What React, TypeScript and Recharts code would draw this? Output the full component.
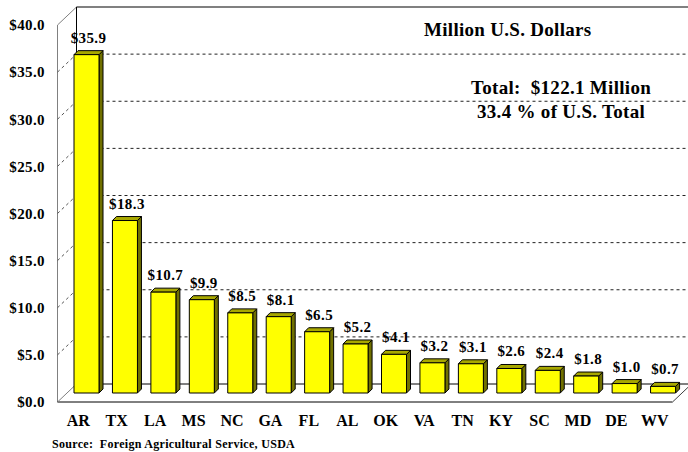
import { BarChart, Bar, XAxis, YAxis, LabelList, ReferenceArea, ReferenceLine } from "recharts";

const states = ["AR", "TX", "LA", "MS", "NC", "GA", "FL", "AL", "OK", "VA", "TN", "KY", "SC", "MD", "DE", "WV"];
const values = [35.9, 18.3, 10.7, 9.9, 8.5, 8.1, 6.5, 5.2, 4.1, 3.2, 3.1, 2.6, 2.4, 1.8, 1.0, 0.7];
const yTicks = [0, 5, 10, 15, 20, 25, 30, 35, 40];
const gridValues = [5, 10, 15, 20, 25, 30, 35];

const data = states.map((s, i) => ({ name: s, value: values[i] }));

// half depth of the 3D floor (bar plane sits midway between front and back)
const DX = 9.5;
const DY = 9;
const FONT = "'Liberation Serif', 'Times New Roman', serif";

const Bar3D = (props: any) => {
  const { x, y, width, height } = props;
  const d = 4;
  const r = x + width;
  const b = y + height;
  return (
    <g stroke="#000" strokeWidth={1} strokeLinejoin="round">
      <polygon points={`${r},${y} ${r + d},${y - d} ${r + d},${b - d} ${r},${b}`} fill="#707000" />
      <polygon points={`${x},${y} ${x + d},${y - d} ${r + d},${y - d} ${r},${y}`} fill="#a8a800" />
      <rect x={x} y={y} width={width} height={height} fill="#ffff00" />
    </g>
  );
};

const Frame = (props: any) => {
  const { x, y, width, height } = props;
  const L = x;
  const R = x + width;
  const T = y;
  const B = y + height;
  return (
    <g fill="none">
      <line x1={L + DX} y1={T - DY} x2={700} y2={T - DY} stroke="#808080" strokeWidth={2} />
      <line x1={L - DX} y1={T + DY} x2={L + DX} y2={T - DY} stroke="#808080" />
      <line x1={L - DX} y1={T + DY} x2={L - DX} y2={B + DY} stroke="#808080" />
      <line x1={L + DX} y1={T - DY} x2={L + DX} y2={B - DY} stroke="#000" />
      <line x1={L + DX} y1={B - DY} x2={R + DX} y2={B - DY} stroke="#000" />
      <line x1={L - DX} y1={B + DY} x2={R - DX} y2={B + DY} stroke="#000" />
      <line x1={L - DX} y1={B + DY} x2={L + DX} y2={B - DY} stroke="#808080" />
      <line x1={R - DX} y1={B + DY} x2={R + DX} y2={B - DY} stroke="#404040" />
    </g>
  );
};

const GridLine = (props: any) => {
  const { x1, y1, x2 } = props;
  return (
    <g fill="none" stroke="#222" strokeDasharray="3 3">
      <line x1={x1 + DX} y1={y1 - DY} x2={x2 + 20} y2={y1 - DY} />
      <line x1={x1 - DX} y1={y1 + DY} x2={x1 + DX} y2={y1 - DY} stroke="#555" />
    </g>
  );
};

const YTick = (props: any) => {
  const { x, y, payload } = props;
  return (
    <text x={x - 14} y={y + DY} dy="0.35em" textAnchor="end" fontFamily={FONT} fontWeight="bold" fontSize={15} letterSpacing={0.4} fill="#000">
      {`$${Number(payload.value).toFixed(1)}`}
    </text>
  );
};

const XTick = (props: any) => {
  const { x, y, payload } = props;
  return (
    <text x={x - 8} y={y + 25} textAnchor="middle" fontFamily={FONT} fontWeight="bold" fontSize={16} fill="#000">
      {payload.value}
    </text>
  );
};

const ValueLabel = (props: any) => {
  const { x, y, width, value } = props;
  return (
    <text x={x + width / 2 + 2} y={y - 12} textAnchor="middle" fontFamily={FONT} fontWeight="bold" fontSize={15} letterSpacing={0.4} fill="#000">
      {`$${Number(value).toFixed(1)}`}
    </text>
  );
};

const textStyle: React.CSSProperties = {
  position: "absolute",
  fontFamily: FONT,
  fontWeight: "bold",
  color: "#000",
  whiteSpace: "pre",
  lineHeight: 1,
};

export default function App() {
  return (
    <div style={{ position: "absolute", left: 0, top: 0, width: 688, height: 452, background: "#fff" }}>
      <BarChart width={688} height={452} data={data} margin={{ top: 16, right: 6, left: 0, bottom: 0 }} barSize={25}>
        <XAxis dataKey="name" height={59} tickLine={false} axisLine={false} tick={<XTick />} interval={0} />
        <YAxis width={67} domain={[0, 40]} ticks={yTicks} tickLine={false} axisLine={false} tick={<YTick />} />
        <ReferenceArea y1={0} y2={40} shape={<Frame />} zIndex={-60} />
        {gridValues.map((v) => (
          <ReferenceLine key={v} y={v} shape={<GridLine />} zIndex={-60} />
        ))}
        <Bar dataKey="value" shape={<Bar3D />} isAnimationActive={false}>
          <LabelList dataKey="value" content={<ValueLabel />} />
        </Bar>
      </BarChart>
      <div style={{ ...textStyle, left: 424, top: 20, fontSize: 19, letterSpacing: 0.3 }}>Million U.S. Dollars</div>
      <div style={{ ...textStyle, left: 471, top: 78, fontSize: 19, letterSpacing: 0.3 }}>Total:  $122.1 Million</div>
      <div style={{ ...textStyle, left: 477, top: 102, fontSize: 19, letterSpacing: 0.3 }}>33.4 % of U.S. Total</div>
      <div style={{ ...textStyle, left: 52, top: 438, fontSize: 12, letterSpacing: 0.3 }}>Source:  Foreign Agricultural Service, USDA</div>
    </div>
  );
}
